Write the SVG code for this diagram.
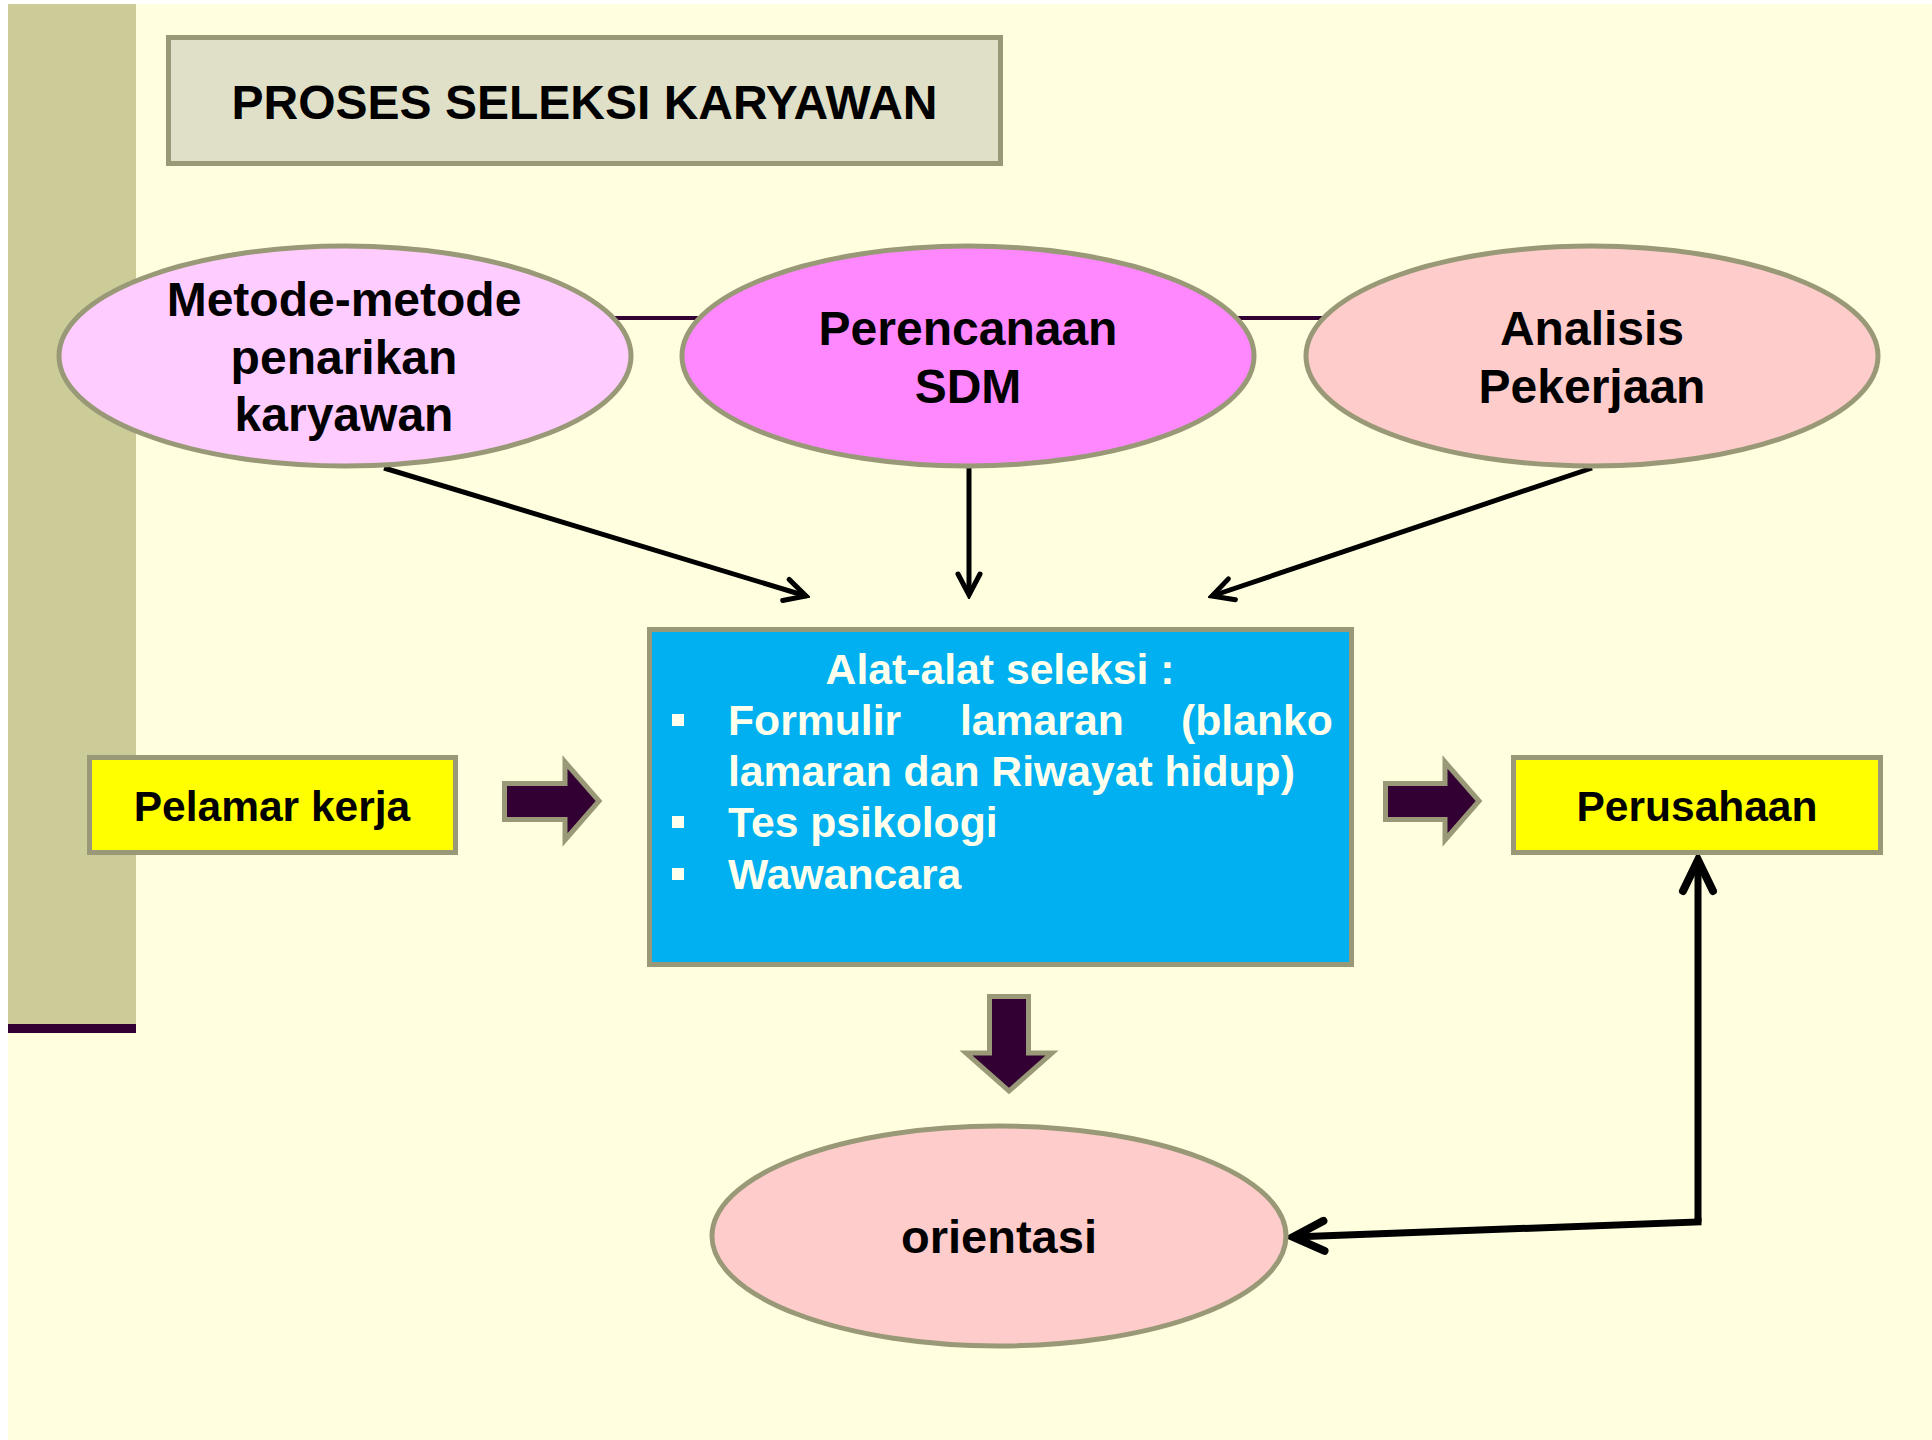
<svg xmlns="http://www.w3.org/2000/svg" width="1932" height="1440" viewBox="0 0 1932 1440">
<defs>
<style>
text{font-family:"Liberation Sans",Arial,sans-serif;font-weight:bold;}
.dark{fill:#000000;}
.light{fill:#FFFFEE;}
.node{stroke:#999977;stroke-width:5;}
.blk{fill:#330033;stroke:#999977;stroke-width:5;stroke-linejoin:miter;}
.conn{fill:none;stroke:#000000;stroke-width:5;}
.conn2{fill:none;stroke:#000000;stroke-width:7;stroke-linejoin:miter;}
.link{stroke:#330033;stroke-width:4;}
</style>
<marker id="ah" viewBox="-26 -15 30 30" markerWidth="30" markerHeight="30" refX="0" refY="0" orient="auto" markerUnits="userSpaceOnUse">
<path d="M-21,-11 L0,0 L-21,11" fill="none" stroke="#000000" stroke-width="5" stroke-linecap="round" stroke-linejoin="miter"/>
</marker>
<marker id="ah2" viewBox="-40 -22 46 44" markerWidth="46" markerHeight="44" refX="0" refY="0" orient="auto" markerUnits="userSpaceOnUse">
<path d="M-31,-15 L0,0 L-31,15" fill="none" stroke="#000000" stroke-width="8" stroke-linecap="round" stroke-linejoin="miter"/>
</marker>
</defs>

<rect x="0" y="0" width="1932" height="1440" fill="#FFFFFF"/>
<rect x="8" y="4" width="1924" height="1436" fill="#FFFFE0"/>
<rect x="8" y="4" width="128" height="1020" fill="#CCCC99"/>
<rect x="8" y="1024" width="128" height="9" fill="#330033"/>

<g id="connectors">
<line class="link" x1="600" y1="318" x2="1340" y2="318"/>
<line class="conn" x1="384" y1="468" x2="806" y2="596" marker-end="url(#ah)"/>
<line class="conn" x1="969" y1="468" x2="969" y2="595" marker-end="url(#ah)"/>
<line class="conn" x1="1592" y1="468" x2="1212" y2="596" marker-end="url(#ah)"/>
<polyline class="conn2" points="1698,1222 1698,860" marker-end="url(#ah2)"/>
<polyline class="conn2" points="1698,1218 1698,1222 1293,1237" marker-end="url(#ah2)"/>
<polygon class="blk" points="504.5,783.5 565,783.5 565,762 599,801 565,840 565,819.5 504.5,819.5"/>
<polygon class="blk" points="1385.5,783.5 1445,783.5 1445,762 1479,801 1445,840 1445,819.5 1385.5,819.5"/>
<polygon class="blk" points="989.5,996.5 1028.5,996.5 1028.5,1053 1052,1053 1009,1091 966,1053 989.5,1053"/>
</g>

<g id="title">
<rect x="168.5" y="37.5" width="832" height="126" fill="#E0E0C8" stroke="#999977" stroke-width="5"/>
<text class="dark" x="584.5" y="119" font-size="48" text-anchor="middle">PROSES SELEKSI KARYAWAN</text>
</g>

<g id="metode">
<ellipse class="node" cx="345" cy="356" rx="286" ry="110" fill="#FFCCFF"/>
<text class="dark" font-size="48" text-anchor="middle"><tspan x="344" y="316">Metode-metode</tspan><tspan x="344" y="374">penarikan</tspan><tspan x="344" y="431">karyawan</tspan></text>
</g>

<g id="perencanaan">
<ellipse class="node" cx="968" cy="356" rx="286" ry="110" fill="#FF88FF"/>
<text class="dark" font-size="48" text-anchor="middle"><tspan x="968" y="345">Perencanaan</tspan><tspan x="968" y="403">SDM</tspan></text>
</g>

<g id="analisis">
<ellipse class="node" cx="1592" cy="356" rx="286" ry="110" fill="#FFCCCC"/>
<text class="dark" font-size="48" text-anchor="middle"><tspan x="1592" y="345">Analisis</tspan><tspan x="1592" y="403">Pekerjaan</tspan></text>
</g>

<g id="alat">
<rect x="649.5" y="629.5" width="702" height="335" fill="#00B0F0" stroke="#999977" stroke-width="5"/>
<text class="light" x="1000" y="684" font-size="42.7" text-anchor="middle">Alat-alat seleksi :</text>
<rect x="672" y="714" width="12" height="12" fill="#FFFFEE"/>
<rect x="672" y="816" width="12" height="12" fill="#FFFFEE"/>
<rect x="672" y="868" width="12" height="12" fill="#FFFFEE"/>
<text class="light" y="735" font-size="42.7"><tspan x="728">Formulir</tspan><tspan x="960">lamaran</tspan><tspan x="1181">(blanko</tspan></text>
<text class="light" x="728" y="786" font-size="42.7">lamaran dan Riwayat hidup)</text>
<text class="light" x="728" y="837" font-size="42.7">Tes psikologi</text>
<text class="light" x="728" y="889" font-size="42.7">Wawancara</text>
</g>

<g id="pelamar">
<rect x="89.5" y="757.5" width="366" height="95" fill="#FFFF00" stroke="#999977" stroke-width="5"/>
<text class="dark" x="272" y="821" font-size="42.5" text-anchor="middle">Pelamar kerja</text>
</g>

<g id="perusahaan">
<rect x="1513.5" y="757.5" width="367" height="95" fill="#FFFF00" stroke="#999977" stroke-width="5"/>
<text class="dark" x="1697" y="821" font-size="42.5" text-anchor="middle">Perusahaan</text>
</g>

<g id="orientasi">
<ellipse class="node" cx="999" cy="1236" rx="287" ry="110" fill="#FFCCCC"/>
<text class="dark" x="999" y="1253" font-size="47" text-anchor="middle">orientasi</text>
</g>
</svg>
